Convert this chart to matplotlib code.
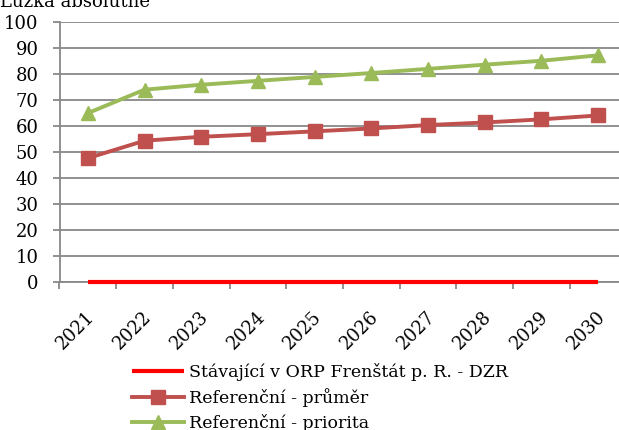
import matplotlib
matplotlib.use("Agg")
import matplotlib.pyplot as plt
import matplotlib.transforms as mtransforms
import numpy as np

plt.rcParams["font.family"] = ["DejaVu Serif"]

years = ["2021", "2022", "2023", "2024", "2025", "2026", "2027", "2028", "2029", "2030"]
stavajici = [0, 0, 0, 0, 0, 0, 0, 0, 0, 0]
ref_prumer = [47.7, 54.4, 55.9, 56.9, 58.0, 59.1, 60.4, 61.4, 62.6, 64.1]
ref_priorita = [65.0, 74.0, 75.9, 77.4, 78.9, 80.4, 82.0, 83.6, 85.1, 87.2]

labels = [
    "Stávající v ORP Frenštát p. R. - DZR",
    "Referenční - průměr",
    "Referenční - priorita",
]
y_title = "Lůžka absolutně"

W, H = 619, 430
fig = plt.figure(figsize=(W / 100, H / 100), dpi=100)
ax = fig.add_axes([59.5 / W, (H - 282.3) / H, 567 / W, 260.3 / H])

x = np.arange(len(years))
h1, = ax.plot(x, stavajici, color="#FF0000", lw=3.0, solid_capstyle="butt",
              zorder=4, clip_on=False)
h2, = ax.plot(x, ref_prumer, color="#C0504D", lw=2.8, marker="s", ms=9.5, zorder=3)
h3, = ax.plot(x, ref_priorita, color="#9BBB59", lw=2.8, marker="^", ms=9.5, zorder=3)

ax.set_xlim(-0.5, len(years) - 0.5)
ax.set_ylim(0, 100)
ax.set_yticks(range(0, 101, 10))
ax.grid(axis="y", color="#888888", lw=1.3)
ax.set_axisbelow(True)
for side in ("top", "right"):
    ax.spines[side].set_visible(False)
for side in ("left", "bottom"):
    ax.spines[side].set_color("#888888")
    ax.spines[side].set_linewidth(1.3)

ax.tick_params(axis="y", length=5, width=1.3, color="#888888", pad=10, labelsize=13)

# category labels at centres, tick marks at category boundaries
ax.set_xticks(x)
ax.set_xticklabels(years, rotation=45, ha="right", va="center",
                   rotation_mode="anchor", fontsize=13)
ax.set_xticks(np.arange(-0.5, len(years)), minor=True)
ax.tick_params(axis="x", which="major", length=0, pad=23)
ax.tick_params(axis="x", which="minor", length=5, width=1.3, color="#888888")
offset = mtransforms.ScaledTranslation(3 / 72, 0, fig.dpi_scale_trans)
for lbl in ax.get_xticklabels():
    lbl.set_transform(lbl.get_transform() + offset)

fig.text(0.0, 1 - 7 / H, y_title, fontsize=13, ha="left", va="baseline")

leg = fig.legend([h1, h2, h3], labels, loc="center left",
                 bbox_to_anchor=(132 / W, 1 - 397.5 / H), frameon=False,
                 fontsize=12.5, handlelength=3.0, handletextpad=0.3,
                 labelspacing=0.42, borderpad=0, borderaxespad=0)

fig.savefig("out.png", dpi=100)
